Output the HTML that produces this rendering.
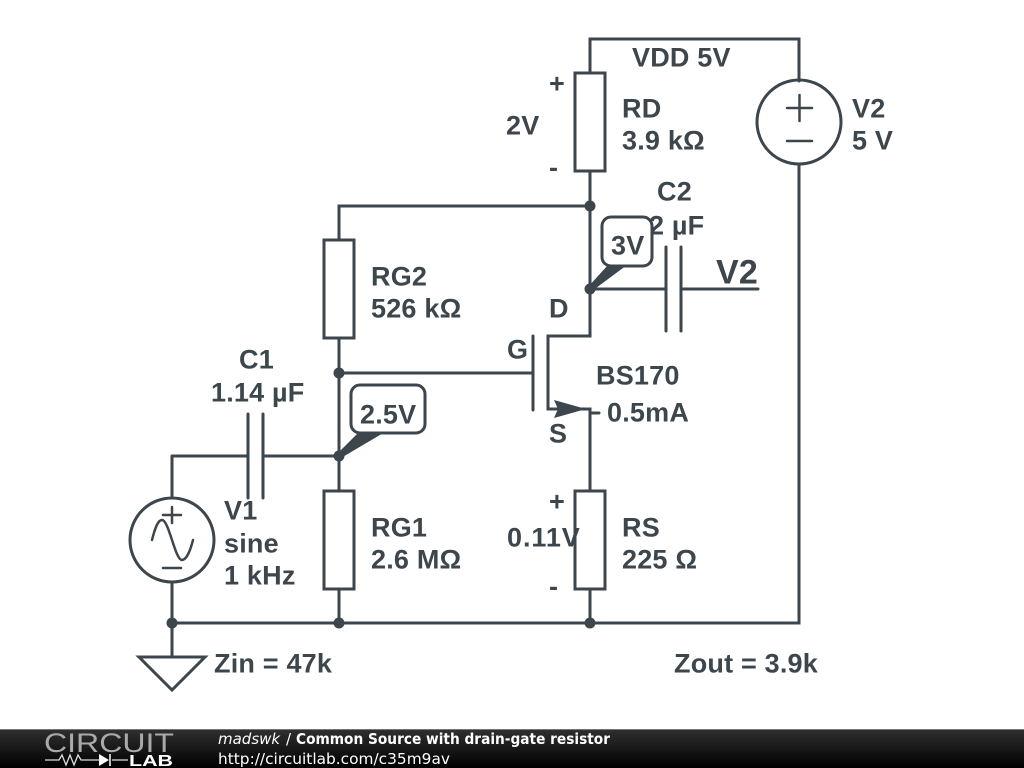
<!DOCTYPE html>
<html><head><meta charset="utf-8"><style>
html,body{margin:0;padding:0;background:#fff;width:1024px;height:768px;overflow:hidden}
svg{display:block}
text{font-family:"Liberation Sans",sans-serif;font-weight:bold;font-size:27px;letter-spacing:.2px;fill:#3d464c}
.f{font-family:"DejaVu Sans",sans-serif;font-size:15px;letter-spacing:0;fill:#fff;font-weight:normal}
</style></head><body>
<svg width="1024" height="768" viewBox="0 0 1024 768" xmlns="http://www.w3.org/2000/svg">
<defs><linearGradient id="g" x1="0" y1="0" x2="0" y2="1"><stop offset="0" stop-color="#303030"/><stop offset="1" stop-color="#000"/></linearGradient></defs>
<rect width="1024" height="768" fill="#fff"/>
<g fill="none" stroke="#3d464c" stroke-width="3" stroke-linecap="round" stroke-linejoin="miter">
<path d="M590 73V39H799V81M799 164V623H172M590 171V336H548V409H590V491M590 589V623M590 206H339V240M339 338V491M339 589V623M339 373H532M172 456H247M263 456H339M172 456V498M172 582V657M590 289H666M681 289H758M590 413H599"/>
<rect x="575" y="73" width="30" height="98"/>
<rect x="324" y="240" width="30" height="98"/>
<rect x="324" y="491" width="30" height="98"/>
<rect x="575" y="491" width="30" height="98"/>
<path d="M533 336V410M248 414V498M263 414V498M666 247V331M681 247V331"/>
<circle cx="799" cy="122" r="42"/>
<circle cx="172" cy="540" r="42"/>
<path d="M139 657H205L172 690Z"/>
</g>
<g fill="none" stroke="#3d464c" stroke-width="2.500" stroke-linecap="round">
<path d="M787 108H812M799.500 95V121M787 141H812"/>
<path d="M163 515H181M172 507V523M163 568H181M152 540C155 528 158 520 162 520C169 520 175 560 182 560C186 560 190 552 193 540"/>
</g>
<g fill="#3d464c">
<circle cx="590" cy="206" r="5.500"/>
<circle cx="590" cy="289" r="5.500"/>
<circle cx="339" cy="373" r="5.500"/>
<circle cx="339" cy="456" r="5.500"/>
<circle cx="172" cy="623" r="5.500"/>
<circle cx="339" cy="623" r="5.500"/>
<circle cx="590" cy="623" r="5.500"/>
<path d="M588 287L608 265H627L592 291Z"/>
<path d="M337 454L359 432H385L341 458Z"/>
<path d="M554 400L586 409L554 418L558 409Z"/>
</g>
<rect x="351" y="385" width="74" height="48" rx="9" fill="#fff" stroke="#3d464c" stroke-width="3"/>
<g transform="translate(0 .5)">
<text x="632" y="66">VDD 5V</text>
<text x="549" y="92">+</text>
<text x="506" y="134">2V</text>
<text x="549" y="176">-</text>
<text x="622" y="117">RD</text>
<text x="622" y="149">3.9 kΩ</text>
<text x="852" y="117">V2</text>
<text x="852" y="149">5 V</text>
<text x="657" y="200">C2</text>
<text x="649" y="234">2 µF</text>
<rect x="602" y="216.500" width="50" height="49" rx="9" fill="#fff" stroke="#3d464c" stroke-width="3"/>
<text x="611" y="254">3V</text>
<text x="716" y="283" style="font-size:34px">V2</text>
<text x="371" y="285">RG2</text>
<text x="371" y="317">526 kΩ</text>
<text x="549" y="317">D</text>
<text x="507" y="358">G</text>
<text x="596" y="384">BS170</text>
<text x="607" y="421">0.5mA</text>
<text x="549" y="442">S</text>
<text x="239" y="368">C1</text>
<text x="211" y="401">1.14 µF</text>
<text x="360" y="423">2.5V</text>
<text x="224" y="519">V1</text>
<text x="224" y="552">sine</text>
<text x="224" y="584">1 kHz</text>
<text x="371" y="536">RG1</text>
<text x="371" y="568">2.6 MΩ</text>
<text x="549" y="510">+</text>
<text x="507" y="546" textLength="73" lengthAdjust="spacing">0.11V</text>
<text x="549" y="595">-</text>
<text x="622" y="536">RS</text>
<text x="622" y="568">225 Ω</text>
<text x="214" y="672">Zin = 47k</text>
<text x="674" y="672">Zout = 3.9k</text>
</g>
<rect x="0" y="729" width="1024" height="39" fill="url(#g)"/>
<rect x="0" y="729" width="1024" height="1" fill="#777"/>
<text x="44" y="752" style="font-size:27px;font-weight:normal;fill:#aaa;letter-spacing:0" textLength="130" lengthAdjust="spacingAndGlyphs">CIRCUIT</text>
<path d="M45 760H59L62 755L66 765L70 755L74 765L78 755L81 760H99M112 760H128" fill="none" stroke="#ddd" stroke-width="1.300"/>
<path d="M99 754L109 760L99 766Z" fill="#fff"/>
<path d="M110 754V766" stroke="#fff" stroke-width="1.500"/>
<text x="129" y="766" style="font-size:16px;fill:#fff;font-weight:bold;letter-spacing:0" textLength="44" lengthAdjust="spacingAndGlyphs">LAB</text>
<text x="218" y="744" class="f" font-style="italic">madswk</text>
<text x="286" y="744" class="f">/</text>
<text x="296" y="744" class="f" style="font-weight:bold" textLength="314" lengthAdjust="spacingAndGlyphs">Common Source with drain-gate resistor</text>
<text x="218" y="764" class="f" textLength="232" lengthAdjust="spacingAndGlyphs">http://circuitlab.com/c35m9av</text>
</svg>
</body></html>
